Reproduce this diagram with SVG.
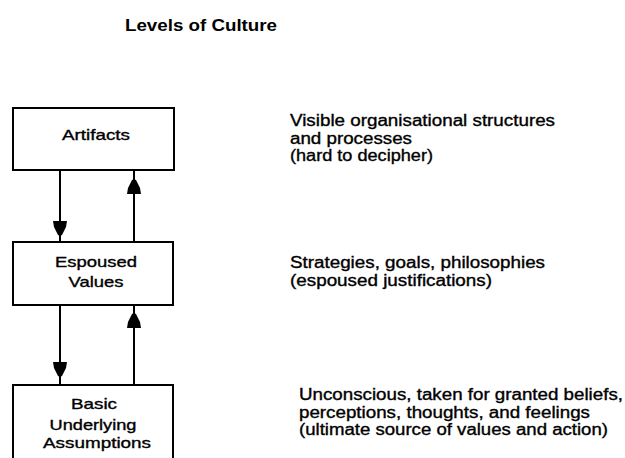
<svg xmlns="http://www.w3.org/2000/svg" xmlns:xlink="http://www.w3.org/1999/xlink" width="625" height="458" viewBox="0 0 625 458">
  <style>
    text { font-family: "Liberation Sans", Arial, sans-serif; fill: #000; }
    .title { font-size: 17px; font-weight: bold; }
    .label { font-size: 15px; text-anchor: middle; stroke: #000; stroke-width: 0.35; }
    .note { font-size: 16px; stroke: #000; stroke-width: 0.35; }
    .box { fill: #fff; stroke: #000; stroke-width: 2; }
    .link { stroke: #000; stroke-width: 2; fill: none; }
    .head { fill: #000; }
  </style>
  <defs>
    <!-- downward arrowhead, tip at origin -->
    <path id="headDown" class="head" d="M-7,-15 L7,-15 L6,-9 L2,-1 L0,0 L-2,-1 L-6,-9 Z"/>
    <!-- upward arrowhead, tip at origin -->
    <path id="headUp" class="head" d="M-7,15 L7,15 L6,9 L2,1 L0,0 L-2,1 L-6,9 Z"/>
  </defs>

  <rect width="625" height="458" fill="#fff"/>

  <text class="title" x="125" y="31" textLength="152" lengthAdjust="spacingAndGlyphs">Levels of Culture</text>

  <g id="connectors">
    <line class="link" x1="60" y1="170" x2="60" y2="242"/>
    <use xlink:href="#headDown" x="60" y="236"/>
    <line class="link" x1="134" y1="242" x2="134" y2="170"/>
    <use xlink:href="#headUp" x="134" y="179"/>

    <line class="link" x1="60" y1="305" x2="60" y2="385"/>
    <use xlink:href="#headDown" x="60" y="377"/>
    <line class="link" x1="134" y1="385" x2="134" y2="305"/>
    <use xlink:href="#headUp" x="134" y="313"/>
  </g>

  <g id="artifacts">
    <rect class="box" x="13" y="108" width="161" height="62"/>
    <text class="label" x="96" y="140" textLength="68" lengthAdjust="spacingAndGlyphs">Artifacts</text>
  </g>

  <g id="espoused-values">
    <rect class="box" x="13" y="242" width="160" height="63"/>
    <text class="label" x="96" y="267" textLength="82" lengthAdjust="spacingAndGlyphs">Espoused</text>
    <text class="label" x="96" y="287" textLength="55" lengthAdjust="spacingAndGlyphs">Values</text>
  </g>

  <g id="basic-assumptions">
    <rect class="box" x="13" y="385" width="160" height="80"/>
    <text class="label" x="94" y="409" textLength="46" lengthAdjust="spacingAndGlyphs">Basic</text>
    <text class="label" x="93" y="430" textLength="87" lengthAdjust="spacingAndGlyphs">Underlying</text>
    <text class="label" x="97" y="448" textLength="108" lengthAdjust="spacingAndGlyphs">Assumptions</text>
  </g>

  <g id="artifacts-note">
    <text class="note" x="290" y="126" textLength="265" lengthAdjust="spacingAndGlyphs">Visible organisational structures</text>
    <text class="note" x="290" y="144" textLength="122" lengthAdjust="spacingAndGlyphs">and processes</text>
    <text class="note" x="290" y="161" textLength="143" lengthAdjust="spacingAndGlyphs">(hard to decipher)</text>
  </g>

  <g id="values-note">
    <text class="note" x="290" y="268" textLength="255" lengthAdjust="spacingAndGlyphs">Strategies, goals, philosophies</text>
    <text class="note" x="290" y="286" textLength="202" lengthAdjust="spacingAndGlyphs">(espoused justifications)</text>
  </g>

  <g id="assumptions-note">
    <text class="note" x="299" y="400" textLength="324" lengthAdjust="spacingAndGlyphs">Unconscious, taken for granted beliefs,</text>
    <text class="note" x="299" y="418" textLength="291" lengthAdjust="spacingAndGlyphs">perceptions, thoughts, and feelings</text>
    <text class="note" x="299" y="435" textLength="309" lengthAdjust="spacingAndGlyphs">(ultimate source of values and action)</text>
  </g>
</svg>
